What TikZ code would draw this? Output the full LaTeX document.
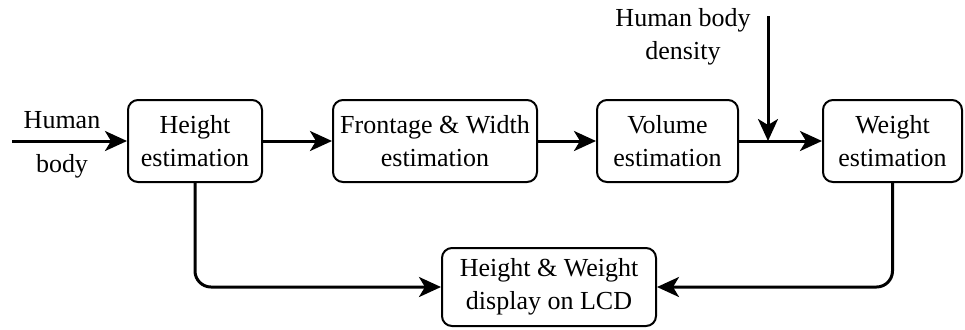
\documentclass[tikz,border=0pt]{standalone}
\usepackage{fontspec}
\setmainfont{Liberation Serif}
\usetikzlibrary{arrows.meta,calc,positioning}

\begin{document}
\begin{tikzpicture}[
    x=.5pt,y=-.5pt,
    blk/.style={rectangle,rounded corners=5pt,draw=black,line width=1pt,align=center,font=\fontsize{13}{16.5}\selectfont,minimum height=41pt,inner sep=0pt},
    lbl/.style={font=\fontsize{13}{16.5}\selectfont,align=center,inner sep=0pt},
    flow/.style={-{Stealth[length=11pt,width=10pt,inset=3pt]},line width=1.5pt},
    back/.style={flow,rounded corners=8pt}
  ]
    \useasboundingbox (0,0) rectangle (965,329);
    \node[blk,minimum width=67pt] (hgt) at (195,141) {Height\\estimation};
    \node[blk,minimum width=102pt] (fw) at (435,141) {Frontage \& Width\\estimation};
    \node[blk,minimum width=70.5pt] (vol) at (667.5,141) {Volume\\estimation};
    \node[blk,minimum width=69.5pt] (wgt) at (892.5,141) {Weight\\estimation};
    \node[blk,minimum width=107pt,minimum height=39pt] (lcd) at (549,287) {Height \& Weight\\display on LCD};
    % inputs
    \coordinate (in) at (12,141);
    \node[lbl] (hum) at (62,120) {Human};
    \node[lbl] (bod) at (62,166) {body};
    \coordinate (dtop) at (768,16);
    \node[lbl] (dens) at (683,37) {Human body\\density};
    % connectors
    \draw[flow] (in) -- (hgt);
    \foreach \s/\t in {hgt/fw,fw/vol,vol/wgt} {\draw[flow] (\s)--(\t);}
    \draw[flow] (dtop) -- (dtop |- vol.east);
    \draw[back] (hgt.south) |- (lcd.west);
    \draw[back] (wgt.south) |- (lcd.east);
  \end{tikzpicture}
\end{document}
